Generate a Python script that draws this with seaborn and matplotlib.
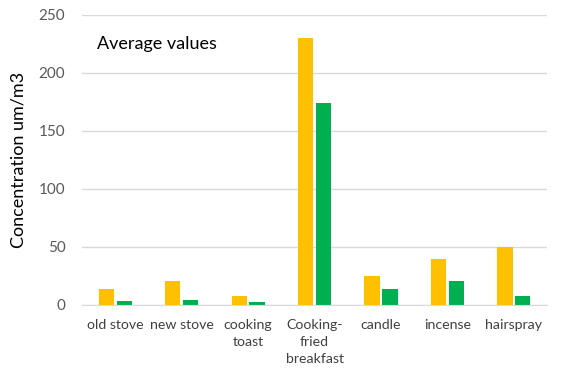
import matplotlib
matplotlib.use("Agg")
import matplotlib.pyplot as plt
import seaborn as sns
import pandas as pd

# values
categories = ["old stove", "new stove", "cooking\ntoast", "Cooking-\nfried\nbreakfast",
              "candle", "incense", "hairspray"]
series_a = [14, 21, 8, 230, 25, 40, 50]   # yellow
series_b = [3.5, 4, 2.5, 174, 14, 21, 8]  # green
series_names = ["A", "B"]
colors = ["#FFC000", "#00B050"]

df = pd.DataFrame({
    "category": categories * 2,
    "value": series_a + series_b,
    "series": [series_names[0]] * len(categories) + [series_names[1]] * len(categories),
})

sns.set_style("white")
plt.rcParams['font.family'] = ['Lato', 'DejaVu Sans']

fig = plt.figure(figsize=(5.63, 3.70), dpi=100)
ax = fig.add_axes([0.1457, 0.1757, 0.826, 0.7838])

sns.barplot(data=df, x="category", y="value", hue="series", palette=colors,
            saturation=1, width=0.54, gap=0.15, linewidth=0, legend=False, ax=ax)

ax.set_ylim(0, 250)
ax.set_xlim(-0.5, len(categories) - 0.5)
ax.set_yticks(range(0, 251, 50))
ax.yaxis.grid(True, color="#d9d9d9", linewidth=1)
ax.set_axisbelow(True)
for s in ["top", "right", "left"]:
    ax.spines[s].set_visible(False)
ax.spines["bottom"].set_color("#d9d9d9")
ax.tick_params(axis="both", length=0, colors="#404040")
ax.tick_params(axis="x", labelsize=10.2, pad=10)
ax.tick_params(axis="y", labelsize=11, pad=12, labelcolor="#595959")
ax.set_xlabel("")
ax.set_ylabel("Concentration um/m3", fontsize=13, color="#000000", labelpad=9)
for lbl in ax.get_xticklabels():
    lbl.set_linespacing(1.5)

ax.text(0.032, 0.90, "Average values", transform=ax.transAxes, fontsize=13,
        color="#000000", va="center", ha="left")

fig.savefig("out.png", dpi=100)
